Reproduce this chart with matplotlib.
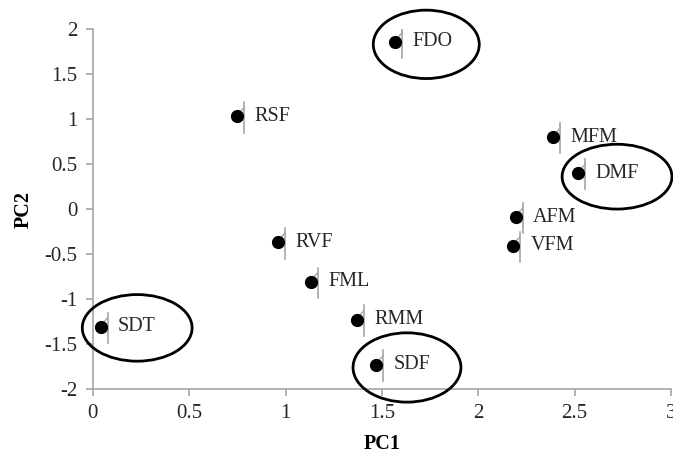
import matplotlib
matplotlib.use('Agg')
import matplotlib.pyplot as plt
from matplotlib.patches import Ellipse

plt.rcParams['font.family'] = ['Liberation Serif', 'DejaVu Serif']

# PCA scores
labels = ['FDO', 'RSF', 'MFM', 'DMF', 'AFM', 'VFM', 'RVF', 'FML', 'RMM', 'SDF', 'SDT']
pc1 = [1.57, 0.75, 2.39, 2.52, 2.195, 2.18, 0.96, 1.13, 1.37, 1.47, 0.04]
pc2 = [1.86, 1.03, 0.80, 0.40, -0.09, -0.41, -0.37, -0.81, -1.23, -1.73, -1.31]

# highlighted groups (centre x, centre y, width, height)
ell_x = [1.73, 2.72, 0.23, 1.63]
ell_y = [1.83, 0.36, -1.32, -1.76]
ell_w = [0.55, 0.57, 0.57, 0.56]
ell_h = [0.76, 0.72, 0.74, 0.77]

xticks = [0, 0.5, 1, 1.5, 2, 2.5, 3]
yticks = [-2, -1.5, -1, -0.5, 0, 0.5, 1, 1.5, 2]

fig = plt.figure(figsize=(6.73, 4.54), dpi=100)
ax = fig.add_axes([0.138, 0.143, 0.859, 0.793])

gray = '#a6a6a6'
# little leader marks next to each point
dx = 0.036
for x, y in zip(pc1, pc2):
    ax.plot([x + dx, x + dx], [y - 0.18, y + 0.16], color=gray, lw=1.2, zorder=2)
    ax.plot([x + dx, x + 0.018], [y + 0.10, y + 0.06], color=gray, lw=1.0, zorder=2)

ax.scatter(pc1, pc2, s=72, color='black', zorder=3)

for x, y, t in zip(pc1, pc2, labels):
    ax.text(x + 0.09, y, t, fontsize=14.5, va='center', ha='left', color='#262626')

for cx, cy, w, h in zip(ell_x, ell_y, ell_w, ell_h):
    ax.add_patch(Ellipse((cx, cy), w, h, fill=False, edgecolor='black',
                         lw=2, clip_on=False, zorder=4))

ax.set_xlim(0, 3)
ax.set_ylim(-2, 2)
ax.set_xticks(xticks)
ax.set_yticks(yticks)
ax.set_xticklabels([f'{v:g}' for v in xticks])
ax.set_yticklabels([f'{v:g}' for v in yticks])
for s in ['top', 'right']:
    ax.spines[s].set_visible(False)
for s in ['left', 'bottom']:
    ax.spines[s].set_color(gray)
    ax.spines[s].set_linewidth(1.2)
ax.tick_params(direction='out', length=5, width=1.2, color=gray,
               labelsize=15, labelcolor='#262626', pad=6)

ax.set_xlabel('PC1', fontsize=14.5, fontweight='bold', labelpad=8)
ax.set_ylabel('PC2', fontsize=14.5, fontweight='bold', labelpad=8)

fig.savefig('out.png', dpi=100)
